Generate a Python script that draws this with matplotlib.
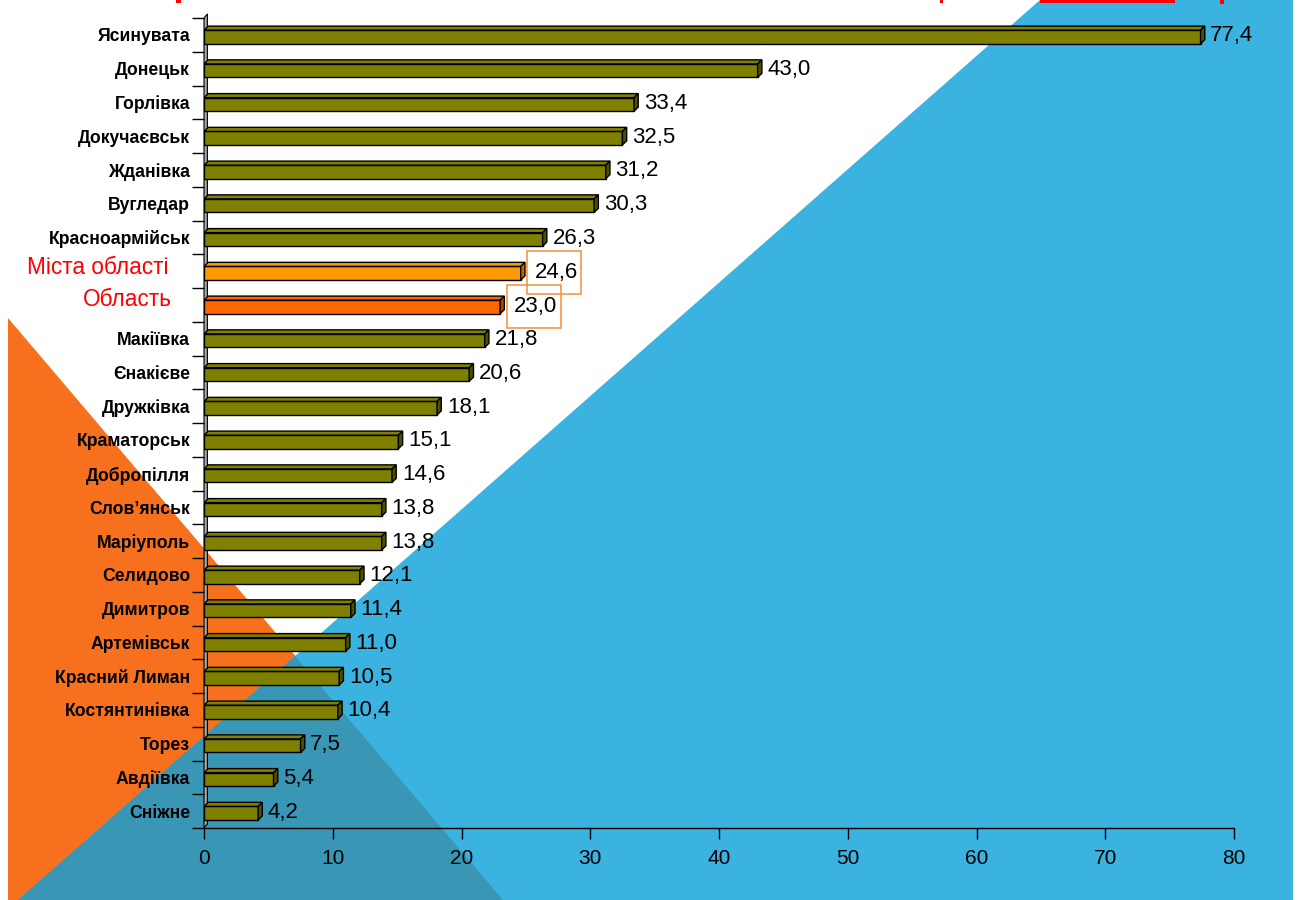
import matplotlib.pyplot as plt
import numpy as np
from matplotlib.patches import Polygon, Rectangle

plt.rcParams['font.family'] = ['Liberation Sans', 'DejaVu Sans']

cities = ["Ясинувата", "Донецьк", "Горлівка", "Докучаєвськ", "Жданівка", "Вугледар",
          "Красноармійськ", "Міста області", "Область", "Макіївка", "Єнакієве",
          "Дружківка", "Краматорськ", "Добропілля", "Слов’янськ", "Маріуполь",
          "Селидово", "Димитров", "Артемівськ", "Красний Лиман", "Костянтинівка",
          "Торез", "Авдіївка", "Сніжне"]
values = [77.4, 43.0, 33.4, 32.5, 31.2, 30.3, 26.3, 24.6, 23.0, 21.8, 20.6, 18.1,
          15.1, 14.6, 13.8, 13.8, 12.1, 11.4, 11.0, 10.5, 10.4, 7.5, 5.4, 4.2]
highlight = {"Міста області": ("#FF9900", "#B86E00"),
             "Область": ("#FF6600", "#B34700")}

W, H = 1300, 900
fig = plt.figure(figsize=(13, 9), dpi=100)
fig.patch.set_facecolor("white")


def fig_poly(pts, color):
    # pixel corners -> figure fraction
    xy = [(x / W, 1 - y / H) for x, y in pts]
    p = Polygon(xy, closed=True, facecolor=color, edgecolor="none",
                transform=fig.transFigure, zorder=-2)
    fig.add_artist(p)


# slide background: orange wedge, blue wedge, and their overlap
fig_poly([(8, 318), (8, 900), (503, 900)], "#F7701E")
fig_poly([(1040, 0), (1293, 0), (1293, 900), (18, 900)], "#3AB3E0")
fig_poly([(295, 656), (18, 900), (503, 900)], "#3A96B5")

# remnants of the red heading cut off at the top edge
for x0, x1, h in [(1040, 1175, 3), (176, 181, 3), (940, 943, 3), (1220, 1224, 4)]:
    fig.add_artist(Rectangle((x0 / W, 1 - h / H), (x1 - x0) / W, h / H,
                             facecolor="#FF0000", edgecolor="none",
                             transform=fig.transFigure, zorder=-1))

ax = fig.add_axes([204 / W, 1 - 828 / H, 1030 / W, 810 / H])
ax.set_facecolor("none")

n = len(cities)
ypos = np.arange(n)[::-1]
dx, dy = 0.33, 0.12   # depth of the 3-d bars in data units
bh = 0.4

# back wall of the category axis
ax.add_patch(Polygon([(0, -0.5), (dx * 0.8, -0.5 + dy), (dx * 0.8, 23.5 + dy), (0, 23.5)],
                     closed=True, facecolor="#A6A6A6", edgecolor="black", lw=0.8,
                     zorder=1, clip_on=False))

for name, v, y in zip(cities, values, ypos):
    front, side = highlight.get(name, ("#808000", "#4F4F00"))
    yb = y - 0.06 - bh / 2
    yt = yb + bh
    ax.barh(yb + bh / 2, v, height=bh, color=front, edgecolor="black", lw=1, zorder=3)
    ax.add_patch(Polygon([(0, yt), (dx, yt + dy), (v + dx, yt + dy), (v, yt)],
                         closed=True, facecolor=front, edgecolor="black", lw=1, zorder=3))
    ax.add_patch(Polygon([(v, yb), (v, yt), (v + dx, yt + dy), (v + dx, yb + dy)],
                         closed=True, facecolor=side, edgecolor="black", lw=1, zorder=3))
    label = f"{v:.1f}".replace(".", ",")
    if name in highlight:
        ax.text(v + 1.1, y - 0.05, label, ha="left", va="center", fontsize=16, zorder=5)
        ax.add_patch(Rectangle((v + 0.5, y - 0.68), 4.2, 1.28, facecolor="none",
                               edgecolor="#F79646", lw=1.2, zorder=5))
    else:
        ax.annotate(label, (v + dx, y - 0.03), xytext=(4, 0), textcoords="offset points",
                    ha="left", va="center", fontsize=16, zorder=5)

ax.set_xlim(0, 80)
ax.set_ylim(-0.5, 23.5)
ax.set_xticks(np.arange(0, 81, 10))
ax.set_yticks(ypos)
ax.set_yticklabels([c if c not in highlight else "" for c in cities],
                   fontsize=12.7, fontweight="bold")
ax.set_yticks(np.arange(-0.5, 24, 1), minor=True)
ax.tick_params(axis="y", which="major", length=0, pad=10)
ax.tick_params(axis="y", which="minor", length=8.5, width=1, direction="out")
ax.tick_params(axis="x", length=8, width=1, direction="out", pad=7, labelsize=15)

for s in ["top", "right"]:
    ax.spines[s].set_visible(False)
ax.spines["left"].set_visible(False)
ax.spines["bottom"].set_linewidth(1)

# red row names for the two summary rows
ax.text(-0.034, 23 - 7 + 0.1, "Міста області", transform=ax.get_yaxis_transform(),
        ha="right", va="center", fontsize=16.3, color="#FF0000")
ax.text(-0.031, 23 - 8 + 0.15, "Область", transform=ax.get_yaxis_transform(),
        ha="right", va="center", fontsize=16.3, color="#FF0000")

fig.savefig("out.png", dpi=100)
